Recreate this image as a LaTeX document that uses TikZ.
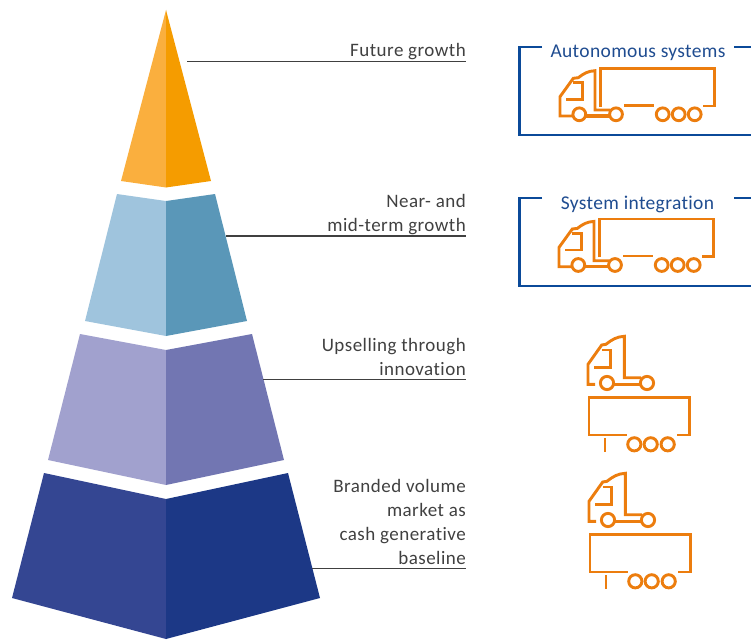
\documentclass[tikz,border=0pt]{standalone}
\usepackage{fontspec}
\setmainfont{Carlito}[LetterSpace=2.5,RawFeature=-liga]
\newfontfamily\titlefont{Carlito}[LetterSpace=1.8,RawFeature=-liga]
\definecolor{txt}{HTML}{404040}
\definecolor{rulec}{HTML}{404040}
\definecolor{framec}{HTML}{0B4A99}
\definecolor{titlec}{HTML}{1F4C90}
\definecolor{truckc}{HTML}{EC7D0E}
\definecolor{oa}{HTML}{FAAF3E}
\definecolor{ob}{HTML}{F59C00}
\definecolor{ba}{HTML}{9FC4DD}
\definecolor{bb}{HTML}{5A97B8}
\definecolor{pa}{HTML}{A1A1CE}
\definecolor{pb}{HTML}{7276B2}
\definecolor{na}{HTML}{344692}
\definecolor{nb}{HTML}{1C3886}
\newcommand{\chassisw}{3.8pt}
\tikzset{
  lab/.style={anchor=base east,inner sep=0pt,text=txt,font=\fontsize{19}{24}\selectfont,align=right},
  boxtitle/.style={anchor=base,inner sep=0pt,text=titlec,font=\titlefont\fontsize{19.5}{24}\selectfont},
  leader/.style={draw=rulec,line width=1.1pt},
  frame/.style={draw=framec,line width=2.4pt},
  tk/.style={draw=truckc,line width=2.9pt,line join=miter},
  whl/.style={tk,fill=white},
  truckwhole/.pic={
    \draw[tk] (-28,1.7) -- (-40,1.7) -- (-40,-17.6) -- (-26.7,-36) -- (-21.7,-36.6)
      .. controls (-16,-41) and (-12,-43.2) .. (-5,-43.6) -- (-5,-4.3) -- (10,-4.3);
    \draw[tk] (-26.7,-31.6) -- (-17.7,-31.6) -- (-17.7,-15) -- (-34,-15);
    \draw[tk,line width=\chassisw] (-14,1.4) -- (9,1.4);
    \draw[tk] (0.7,-7.6) -- (0.7,-46) -- (114.3,-46) -- (114.3,-8.3) -- (102.7,-8.3);
    \draw[tk] (24,-9) -- (54,-9);
    \draw[whl] (-20.7,0) circle (6.4);
    \draw[whl] (16,0) circle (6.4);
    \draw[whl] (62.7,0) circle (6.4);
    \draw[whl] (78.7,0) circle (6.4);
    \draw[whl] (94.7,0) circle (6.4);
  },
  truckapart/.pic={
    \draw[tk] (-12,1.3) -- (-19,1.3) -- (-19,-18.7) -- (-5.3,-38) -- (-1,-38.7)
      .. controls (5,-43.5) and (10,-46.4) .. (17.3,-46.7) -- (17.3,-5.3) -- (34,-5.3);
    \draw[tk] (-5.3,-33) -- (3.7,-33) -- (3.7,-15.7) -- (-13,-15.7);
    \draw[tk] (7,1.3) -- (33,1.3);
    \draw[whl] (0,0) circle (6.6);
    \draw[whl] (40,0) circle (6.6);
    \draw[tk] (19.7,52) -- (-18,52) -- (-18,14.3) -- (82.3,14.3) -- (82.3,52) -- (69.7,52);
    \draw[tk] (-2,55.3) -- (-2,68.7);
    \draw[whl] (27.3,61.3) circle (6.6);
    \draw[whl] (43.7,61.3) circle (6.6);
    \draw[whl] (60.7,61.3) circle (6.6);
  }
}
\begin{document}
\begin{tikzpicture}[x=1pt,y=-1pt]
\useasboundingbox (0,0) rectangle (751,639);
% pyramid
\fill[oa] (166,10) -- (121,181) -- (166,187.5) -- cycle;
\fill[ob] (166,10) -- (211,181) -- (166,187.5) -- cycle;
\fill[ba] (117,194) -- (85,321) -- (166,336) -- (166,201) -- cycle;
\fill[bb] (215,194) -- (247,321) -- (166,336) -- (166,201) -- cycle;
\fill[pa] (80,334) -- (48,460) -- (166,485) -- (166,350) -- cycle;
\fill[pb] (252,334) -- (284,460) -- (166,485) -- (166,350) -- cycle;
\fill[na] (44,473) -- (12,598) -- (166,639) -- (166,499) -- cycle;
\fill[nb] (288,473) -- (320,598) -- (166,639) -- (166,499) -- cycle;
% labels (a multi-line node's base is its last line)
\node[lab] (l1) at (466,57) {Future growth};
\node[lab] (l2) at (466,231) {Near- and\\mid-term growth};
\node[lab] (l3) at (466,375) {Upselling through\\innovation};
\node[lab] (l4) at (466,564) {Branded volume\\market as\\cash generative\\baseline};
% leaders
\coordinate (p1) at (187,61.5);
\coordinate (e1) at (466,61.5);
\coordinate (p2) at (226,236);
\coordinate (e2) at (466,236);
\coordinate (p3) at (263,379.5);
\coordinate (e3) at (466,379.5);
\coordinate (p4) at (312,568.5);
\coordinate (e4) at (466,568.5);
\draw[leader] (p1) -- (e1);
\draw[leader] (p2) -- (e2);
\draw[leader] (p3) -- (e3);
\draw[leader] (p4) -- (e4);
% frames
\draw[frame] (542,47) -- (519.5,47) -- (519.5,135) -- (751,135);
\draw[frame] (734,47) -- (751,47);
\node[boxtitle] (t1) at (638,57.5) {Autonomous systems};
\draw[frame] (542,198) -- (519.5,198) -- (519.5,286) -- (751,286);
\draw[frame] (734,198) -- (751,198);
\node[boxtitle] (t2) at (637.5,209) {System integration};
% trucks
\pic at (600,114.3) {truckwhole};
\renewcommand{\chassisw}{2.9pt}
\pic at (599,265) {truckwhole};
\pic at (607,383) {truckapart};
\pic at (608,520) {truckapart};
\end{tikzpicture}
\end{document}
